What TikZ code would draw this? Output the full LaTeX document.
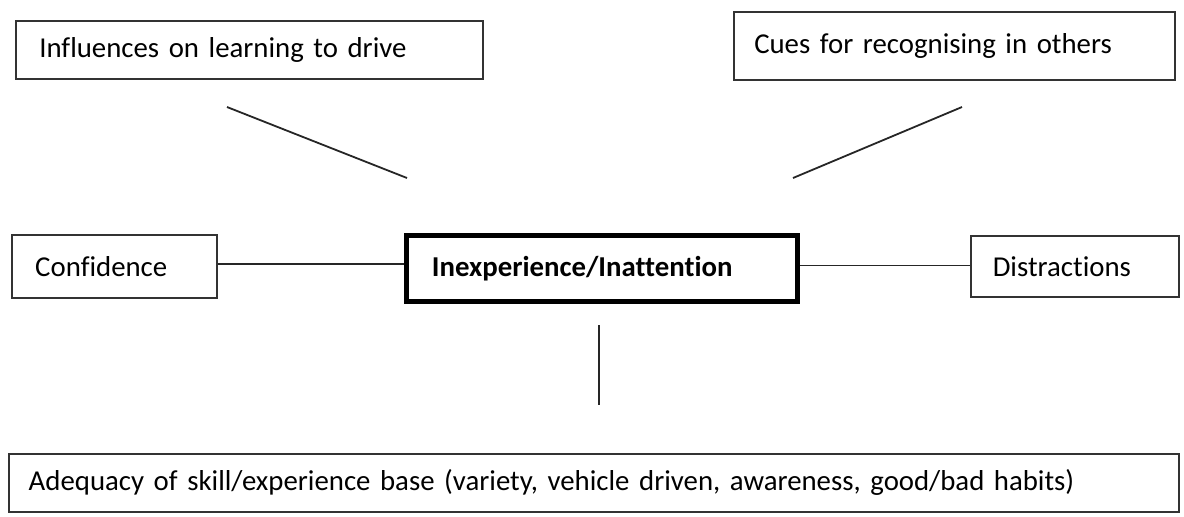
\documentclass[tikz,border=0pt]{standalone}
\usepackage{fontspec}
\setmainfont{Carlito}[Ligatures=NoCommon, WordSpace={0.85,0,0}]
\begin{document}
\begin{tikzpicture}[x=0.5pt,y=-0.5pt,
  box/.style={draw=black!80, line width=0.75pt, rectangle, anchor=north west, align=left,
    inner ysep=0pt, font=\fontsize{14.4}{17}\selectfont},
  link/.style={draw=black!85, line width=0.9pt}]
\useasboundingbox (0,0) rectangle (1184,516);
% top left
\node[box, minimum width=233.5pt, minimum height=29pt, inner xsep=11.5pt, text width=210pt] (infl) at (15,20) {Influences on learning to drive};
% top right
\node[box, minimum width=220.5pt, minimum height=34pt, inner xsep=10pt, text width=200pt] (cues) at (733,11) {Cues for recognising in others};
% confidence
\node[box, minimum width=102.5pt, minimum height=31.5pt, inner xsep=11.5pt, text width=79pt] (conf) at (11,234) {Confidence};
% centre
\node[box, draw=black, line width=2.4pt, minimum width=195.5pt, minimum height=33pt, inner xsep=12.5pt, text width=170pt, font=\fontsize{14.4}{17}\selectfont\bfseries] (core) at (404,233) {Inexperience/Inattention};
% distractions
\node[box, minimum width=104pt, minimum height=30.5pt, inner xsep=11pt, text width=82pt] (dist) at (970,235) {Distractions};
% bottom
\node[box, minimum width=585pt, minimum height=29pt, inner xsep=10pt, text width=565pt] (adeq) at (8,453) {Adequacy of skill/experience base (variety, vehicle driven, awareness, good/bad habits)};
% connector ends
\coordinate (tl1) at (227,107);
\coordinate (tl2) at (407,178);
\coordinate (tr1) at (962,107);
\coordinate (tr2) at (793,178);
\coordinate (v1) at (599,325);
\coordinate (v2) at (599,405);
\draw[link] (tl1) -- (tl2);
\draw[link] (tr1) -- (tr2);
\draw[link] ([yshift=1pt]conf.east) -- ([yshift=1pt]conf.east -| core.west);
\draw[link] ([yshift=1.5pt]core.east) -- ([yshift=1.5pt]core.east -| dist.west);
\draw[link] (v1) -- (v2);
\end{tikzpicture}
\end{document}
